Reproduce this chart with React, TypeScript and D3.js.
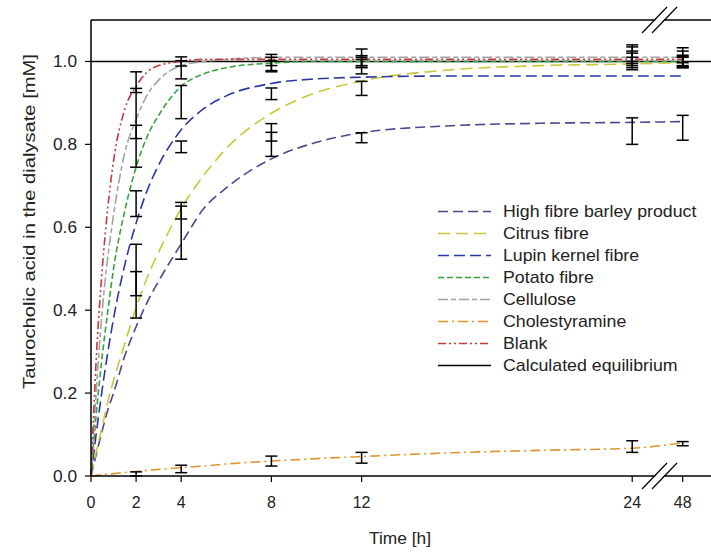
import React from "react";
import * as d3 from "d3";

// ---------- data ----------
const curveTimes = [0, 0.25, 0.5, 0.75, 1, 1.5, 2, 2.5, 3, 4, 5, 6, 8, 10, 12, 16, 20, 24, 48];

const barleyCurve = [0, 0.056, 0.11, 0.16, 0.2, 0.29, 0.36, 0.42, 0.47, 0.56, 0.645, 0.695, 0.765, 0.805, 0.828, 0.845, 0.851, 0.853, 0.855];
const citrusCurve = [0, 0.063, 0.12, 0.18, 0.23, 0.32, 0.405, 0.48, 0.54, 0.645, 0.725, 0.79, 0.875, 0.925, 0.953, 0.98, 0.99, 0.994, 0.997];
const lupinCurve = [0, 0.11, 0.21, 0.3, 0.38, 0.51, 0.61, 0.69, 0.75, 0.835, 0.886, 0.917, 0.947, 0.958, 0.962, 0.965, 0.965, 0.965, 0.965];
const potatoCurve = [0, 0.16, 0.29, 0.4, 0.5, 0.64, 0.745, 0.82, 0.87, 0.94, 0.97, 0.985, 0.996, 1.0, 1.0, 1.0, 1.0, 1.0, 1.0];
const celluloseCurve = [0, 0.22, 0.4, 0.53, 0.63, 0.78, 0.86, 0.92, 0.955, 0.99, 1.0, 1.005, 1.01, 1.01, 1.01, 1.01, 1.01, 1.01, 1.01];
const cholCurve = [0, 0.0015, 0.003, 0.0044, 0.0057, 0.0084, 0.011, 0.0135, 0.016, 0.02, 0.024, 0.029, 0.036, 0.042, 0.047, 0.056, 0.062, 0.067, 0.08];
const blankCurve = [0, 0.3, 0.5, 0.65, 0.76, 0.885, 0.94, 0.975, 0.99, 1.0, 1.005, 1.005, 1.005, 1.005, 1.005, 1.005, 1.005, 1.005, 1.005];

const sampleTimes = [2, 4, 8, 12, 24, 48];
const barleyMean = [0.437, 0.587, 0.8, 0.816, 0.832, 0.84];
const barleySd = [0.056, 0.064, 0.029, 0.012, 0.032, 0.03];
const citrusMean = [0.497, 0.64, 0.829, 0.935, 1.01, 1.005];
const citrusSd = [0.062, 0.02, 0.021, 0.017, 0.025, 0.02];
const lupinMean = [0.657, 0.794, 0.922, 0.99, 1.0, 1.0];
const lupinSd = [0.031, 0.014, 0.014, 0.02, 0.02, 0.015];
const potatoMean = [0.84, 0.902, 0.99, 0.995, 1.0, 1.0];
const potatoSd = [0.095, 0.04, 0.012, 0.01, 0.01, 0.01];
const celluloseMean = [0.83, 0.98, 1.0, 1.0, 1.02, 1.015];
const celluloseSd = [0.016, 0.022, 0.01, 0.014, 0.02, 0.018];
const cholMean = [0.005, 0.017, 0.036, 0.044, 0.071, 0.078];
const cholSd = [0.005, 0.009, 0.012, 0.013, 0.014, 0.005];
const blankMean = [0.95, 1.0, 0.996, 1.01, 1.01, 1.0];
const blankSd = [0.025, 0.011, 0.021, 0.02, 0.015, 0.012];

const equilibrium = 1.0;

const xTicks = [0, 2, 4, 8, 12, 24, 48];
const yTicks = [0, 0.2, 0.4, 0.6, 0.8, 1.0];

const seriesNames = [
  "High fibre barley product",
  "Citrus fibre",
  "Lupin kernel fibre",
  "Potato fibre",
  "Cellulose",
  "Cholestyramine",
  "Blank",
];
const seriesColors = ["#54448f", "#c9c83a", "#2b36a6", "#36a33a", "#a3a3a3", "#e0952e", "#c23a3e"];
const seriesDash = ["10,5", "12,6", "11,5", "6,3", "10,3,5,3", "10,4,2,4", "8,3,2,3,2,3"];
const curves = [barleyCurve, citrusCurve, lupinCurve, potatoCurve, celluloseCurve, cholCurve, blankCurve];
const means = [barleyMean, citrusMean, lupinMean, potatoMean, celluloseMean, cholMean, blankMean];
const sds = [barleySd, citrusSd, lupinSd, potatoSd, celluloseSd, cholSd, blankSd];

// ---------- layout ----------
const W = 711;
const H = 554;
const left = 91;
const right = 711;
const top = 20;
const bottom = 476;
const FONT = "Arial, 'Liberation Sans', sans-serif";

export default function App() {
  const x = d3.scaleLinear().domain([0, 24, 48]).range([left, 632.2, 682.7]);
  const y = d3.scaleLinear().domain([0, 1.1]).range([bottom, top]);

  const line = d3
    .line<[number, number]>()
    .x((d) => x(d[0]))
    .y((d) => y(d[1]))
    .curve(d3.curveMonotoneX);

  const legendX0 = 438;
  const legendX1 = 491;
  const legendTextX = 503;
  const legendY0 = 211.5;
  const legendStep = 22;

  const breakLines = (cy: number) => {
    const segs = [0, 10].map((off) => ({
      x1: 642 + off,
      y1: cy + 13,
      x2: 667 + off,
      y2: cy - 13,
    }));
    return (
      <g>
        <polygon
          points={`${segs[0].x1 + 1},${cy + 13} ${segs[0].x2 + 1},${cy - 13} ${segs[1].x2 - 1},${cy - 13} ${segs[1].x1 - 1},${cy + 13}`}
          fill="#fff"
        />
        {segs.map((s, i) => (
          <line key={i} {...s} stroke="#000" strokeWidth={1.2} />
        ))}
      </g>
    );
  };

  return (
    <svg
      width={W}
      height={H}
      style={{ position: "absolute", left: 0, top: 0, background: "#fff" }}
      fontFamily={FONT}
    >
      <rect x={0} y={0} width={W} height={H} fill="#fff" />

      {/* equilibrium line */}
      <line x1={left} x2={right} y1={y(equilibrium)} y2={y(equilibrium)} stroke="#000" strokeWidth={1.6} />

      {/* curves */}
      {curves.map((c, i) => (
        <path
          key={i}
          d={line(curveTimes.map((t, j) => [t, c[j]] as [number, number])) || ""}
          fill="none"
          stroke={seriesColors[i]}
          strokeWidth={1.6}
          strokeDasharray={seriesDash[i]}
        />
      ))}

      {/* error bars */}
      {means.map((m, i) =>
        sampleTimes.map((t, j) => {
          const cx = x(t);
          const y1 = y(m[j] + sds[i][j]);
          const y2 = y(Math.max(0, m[j] - sds[i][j]));
          return (
            <g key={`${i}-${j}`} stroke="#000" strokeWidth={1.5}>
              <line x1={cx} x2={cx} y1={y1} y2={y2} />
              <line x1={cx - 6} x2={cx + 6} y1={y1} y2={y1} />
              <line x1={cx - 6} x2={cx + 6} y1={y2} y2={y2} />
            </g>
          );
        })
      )}

      {/* frame */}
      <line x1={left} x2={left} y1={top} y2={bottom} stroke="#000" strokeWidth={1.5} />
      <line x1={left} x2={right} y1={top} y2={top} stroke="#000" strokeWidth={1.5} />
      <line x1={left} x2={right} y1={bottom} y2={bottom} stroke="#000" strokeWidth={1.5} />
      {breakLines(top)}
      {breakLines(bottom)}

      {/* y ticks */}
      {yTicks.map((v) => (
        <g key={v}>
          <line x1={left - 6} x2={left} y1={y(v)} y2={y(v)} stroke="#000" strokeWidth={1.2} />
          <text
            transform={`translate(77, ${y(v)}) scale(1.08, 1)`}
            dy="0.35em"
            textAnchor="end"
            fontSize={16}
            fill="#222"
          >
            {v.toFixed(1)}
          </text>
        </g>
      ))}

      {/* x ticks */}
      {xTicks.map((v) => (
        <g key={v}>
          <line x1={x(v)} x2={x(v)} y1={bottom} y2={bottom + 6} stroke="#000" strokeWidth={1.2} />
          <text x={x(v)} y={502} dy="0.35em" textAnchor="middle" fontSize={16} fill="#222">
            {v}
          </text>
        </g>
      ))}

      {/* axis titles */}
      <text
        transform="translate(400, 544) scale(1.05, 1)"
        textAnchor="middle"
        fontSize={16.5}
        fill="#222"
      >
        Time [h]
      </text>
      <text
        transform="translate(35, 221.5) rotate(-90) scale(1.26, 1)"
        textAnchor="middle"
        fontSize={16}
        fill="#222"
      >
        Taurocholic acid in the dialysate [mM]
      </text>

      {/* legend */}
      {seriesNames.map((name, i) => {
        const ly = legendY0 + i * legendStep;
        return (
          <g key={name}>
            <line
              x1={legendX0}
              x2={legendX1}
              y1={ly}
              y2={ly}
              stroke={seriesColors[i]}
              strokeWidth={1.6}
              strokeDasharray={seriesDash[i]}
            />
            <text
              transform={`translate(${legendTextX}, ${ly}) scale(1.11, 1)`}
              dy="0.35em"
              fontSize={16}
              fill="#222"
            >
              {name}
            </text>
          </g>
        );
      })}
      <line
        x1={legendX0}
        x2={legendX1}
        y1={legendY0 + 7 * legendStep}
        y2={legendY0 + 7 * legendStep}
        stroke="#000"
        strokeWidth={1.6}
      />
      <text
        transform={`translate(${legendTextX}, ${legendY0 + 7 * legendStep}) scale(1.11, 1)`}
        dy="0.35em"
        fontSize={16}
        fill="#222"
      >
        Calculated equilibrium
      </text>
    </svg>
  );
}
